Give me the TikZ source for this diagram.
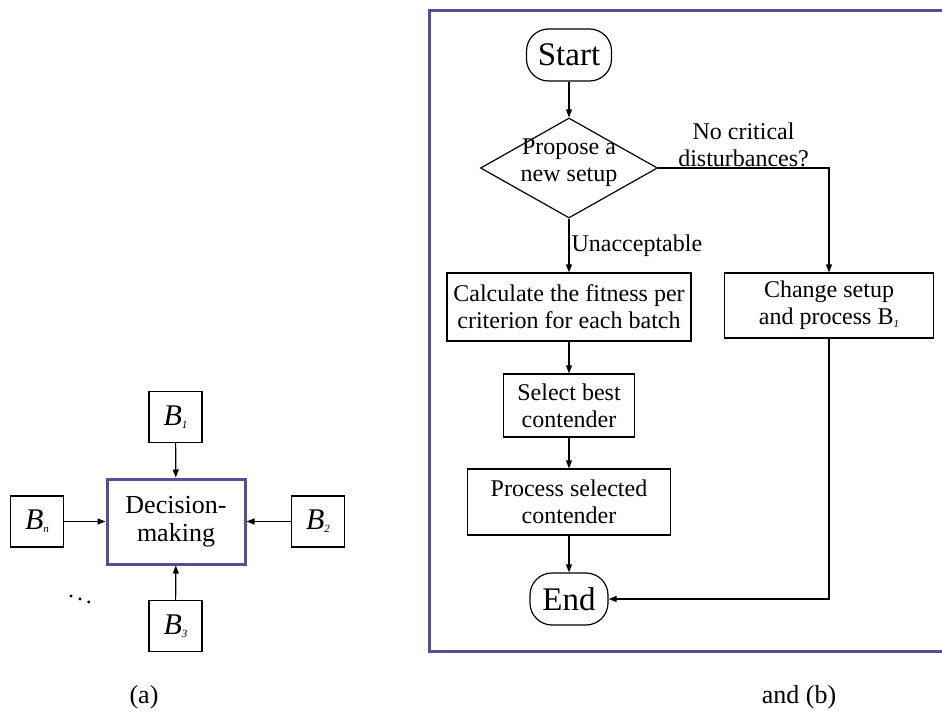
\documentclass[tikz,border=0pt]{standalone}
\usepackage{fontspec}
\setmainfont{Liberation Serif}
\usetikzlibrary{shapes.geometric,arrows.meta}
\definecolor{frame}{RGB}{88,76,150}
\newcommand{\bsub}[1]{\raisebox{-0.1em}{\fontsize{11}{11}\selectfont\itshape #1}}

\begin{document}
\begin{tikzpicture}[x=1pt,y=-1pt,font=\fontsize{24}{27}\selectfont]
\tikzstyle{box}=[rectangle, draw, line width=1.2pt, inner sep=0pt, align=center]
\tikzstyle{bbox}=[rectangle, draw, line width=1.2pt, minimum width=53pt, minimum height=51pt, inner sep=0pt, font=\fontsize{30}{30}\selectfont\itshape]
\tikzstyle{term}=[rectangle, rounded corners=22pt, draw, line width=1.2pt, inner sep=0pt, minimum height=52pt, font=\fontsize{33}{36}\selectfont]
\tikzstyle{arr}=[-{Triangle[length=8pt,width=6pt]}, line width=1.2pt]
\useasboundingbox (0,0) rectangle (942,712);

% (a)
\node[box, draw=frame, line width=3pt, minimum width=138pt, minimum height=85pt, font=\fontsize{26}{28}\selectfont] (D) at (176,521.5) {Decision-\\making};
\node[bbox] (B1) at (175.5,417) {B\bsub{1}};
\node[bbox] (B2) at (318,521.5) {B\bsub{2}};
\node[bbox] (B3) at (175.5,626) {B\bsub{3}};
\node[bbox] (Bn) at (37,521.5) {B\bsub{n}};
\node (dots) at (80,596) {$\ddots$};

\draw[arr] (B1)--(D);
\draw[arr] (B2)--(D);
\draw[arr] (B3)--(D);
\draw[arr] (Bn)--(D);

% (b)
\draw[frame, line width=3pt] (942,10) -| (429,651) -- (942,651);
\node[term, minimum width=85pt] (Start) at (569,55) {Start};
\node[diamond, draw, line width=1.2pt, minimum width=177pt, minimum height=100pt, inner sep=0pt] (Prop) at (569,168) {};
\node[align=center] (PropTxt) at (569,163) {Propose a\\new setup};
\node[box, minimum width=244pt, minimum height=68pt] (Calc) at (569,307) {Calculate the fitness per\\criterion for each batch};
\node[box, minimum width=131pt, minimum height=63pt] (Sel) at (569,405.5) {Select best\\contender};
\node[box, minimum width=203pt, minimum height=66pt] (Proc) at (569,502) {Process selected\\contender};
\node[term, minimum width=78pt] (End) at (569,599) {End};
\node[box, minimum width=209pt, minimum height=65pt] (Chg) at (829,305.5) {Change setup\\and process B\bsub{1}};

\draw[arr] (Start)--(Prop);
\draw[arr] (Prop)-- node[right, inner sep=2pt] (lu) {Unacceptable} (Calc);
\draw[arr] (Prop.east) -| node[pos=.25, above, align=center, inner sep=1pt] (lnc) {No critical\\disturbances?} (Chg);
\draw[arr] (Calc)--(Sel);
\draw[arr] (Sel)--(Proc);
\draw[arr] (Proc)--(End);
\draw[arr] (Chg) |- (End);

\node[font=\fontsize{26}{28}\selectfont] (la) at (144,697) {(a)};
\node[font=\fontsize{26}{28}\selectfont] (lb) at (799,697) {and (b)};
\end{tikzpicture}
\end{document}
